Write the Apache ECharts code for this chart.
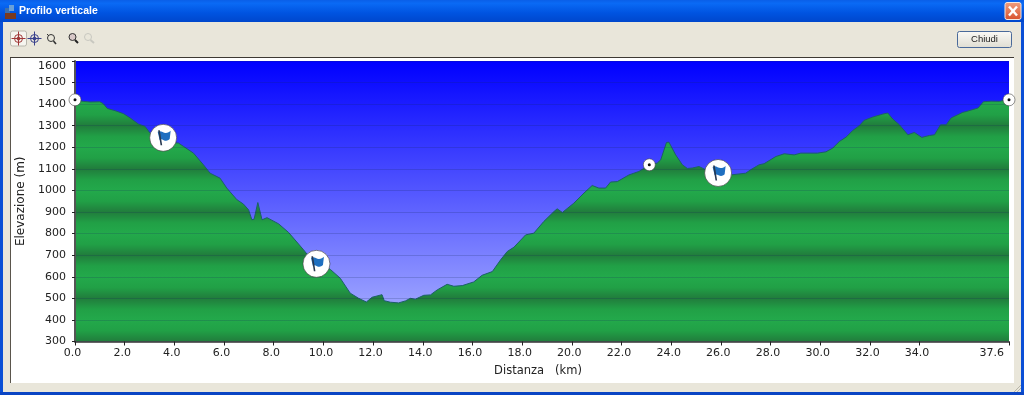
<!DOCTYPE html>
<html><head><meta charset="utf-8">
<style>html,body{margin:0;padding:0;background:#ece9d8}#c{width:1024px;height:395px}</style>
<script src="https://cdn.jsdelivr.net/npm/echarts@6/dist/echarts.min.js"></script>
</head><body><div id="c"></div>
<script>
const distanceKm = [0,.33,.6,1,1.14,1.3,1.61,1.95,2.22,2.55,2.82,3.02,3.29,3.83,4.16,4.37,4.77,5.17,5.44,5.84,6.11,6.52,6.78,6.99,7.12,7.21,7.36,7.53,7.73,8.2,8.6,9.2,9.47,10.28,10.68,11.08,11.42,11.73,11.96,12.36,12.45,12.7,13.03,13.3,13.5,13.7,14.04,14.31,14.58,14.98,15.25,15.59,16.05,16.39,16.8,17.13,17.4,17.67,18.14,18.47,18.87,19.28,19.41,19.62,20.08,20.49,20.82,21.09,21.36,21.56,21.83,22.3,22.7,23.1,23.44,23.58,23.81,23.91,24.18,24.45,24.65,24.85,25.12,25.39,26.4,27,27.2,27.54,27.74,28.21,28.55,28.95,29.22,29.89,30.23,30.5,30.77,31.04,31.31,31.57,31.77,32.11,32.52,32.72,32.92,33.19,33.53,33.79,34.09,34.4,34.6,34.84,35.07,35.27,35.74,35.88,36.35,36.57,36.88,37.22,37.6];
const elevationM = [1420,1413,1410,1411,1402,1380,1370,1356,1336,1308,1297,1266,1235,1221,1220,1204,1173,1119,1080,1057,1011,957,937,910,864,867,944,864,874,845,805,725,686,634,593,524,500,483,505,517,489,482,479,488,500,496,514,516,539,565,556,559,576,607,624,678,717,737,794,802,856,902,915,898,941,988,1023,1011,1011,1039,1041,1072,1088,1116,1127,1142,1222,1224,1165,1119,1102,1104,1111,1096,1072,1080,1096,1119,1124,1157,1170,1165,1173,1173,1179,1196,1227,1247,1278,1300,1325,1340,1354,1359,1331,1304,1258,1269,1246,1255,1258,1304,1304,1336,1362,1366,1382,1411,1414,1413,1424];
const flagKm = [3.55, 9.72, 25.89];
const flagElev = [1244, 660, 1081];
const pointKm = [0, 23.12, 37.6];
const pointElev = [1420, 1119, 1420];
const xTickValues = [0,2,4,6,8,10,12,14,16,18,20,22,24,26,28,30,32,34,37.6];
const bandElev = [1600,1550,1500,1450,1400,1350,1300,1250,1200,1150,1100,1050,1000,950,900,850,800,750,700,650,600,550,500,450,400,350,300];
const bandShade = [2,1,2,1,0,1,2,1,0,1,2,1,0,1,2,1,0,1,2,1,0,1,2,1,0,1,2];
const bandColors = ['#23a94b','#21a046','#217c3c'];

const G = {l:75, t:61, w:934, h:280.5};
const yMin = 300, yMax = 1600;
const FONT = '"DejaVu Sans"';
const bandStops = bandElev.map((v,i)=>({offset:(yMax-v)/(yMax-yMin), color:bandColors[bandShade[i]]}));

const rect=(x,y,w,h,fill,z=-10,extra={})=>({type:'rect',z,silent:true,shape:{x,y,width:w,height:h,...extra},style:{fill}});
const line=(x1,y1,x2,y2,stroke,lw=1,z=-8)=>({type:'line',z,silent:true,shape:{x1,y1,x2,y2},style:{stroke,lineWidth:lw}});
const circ=(cx,cy,r,stroke,fill='none',lw=1,z=-8)=>({type:'circle',z,silent:true,shape:{cx,cy,r},style:{stroke,fill,lineWidth:lw}});
const lg=(a,b,h=false)=>({type:'linear',x:0,y:0,x2:h?1:0,y2:h?0:1,colorStops:[{offset:0,color:a},{offset:1,color:b}]});
const cross=(cx,cy,c)=>[circ(cx,cy,4,c),line(cx-7,cy,cx+7,cy,c),line(cx,cy-7,cx,cy+7,c),circ(cx,cy,1.5,c,c)];
const txt=(x,y,t,fill,font,extra={})=>({type:'text',z:-7,silent:true,x,y,style:{text:t,fill,font,...extra}});

const chrome=[
  rect(0,0,1024,395,'#e9e6da',-12),
  {type:'rect',z:-11,silent:true,shape:{x:0,y:0,width:1024,height:22},style:{fill:{type:'linear',x:0,y:0,x2:0,y2:1,colorStops:[{offset:0,color:'#0a5fe8'},{offset:.15,color:'#0a6af5'},{offset:.6,color:'#0053e0'},{offset:1,color:'#0047cc'}]}}},
  rect(0,22,3,373,'#0a4fd6',-11), rect(1021,22,3,373,'#0a4fd6',-11), rect(0,392,1024,3,'#0a45c4',-11),
  rect(10,58,1004,325,'#ffffff',-10),
  line(10,57.5,1014,57.5,'#3e3a34',1), line(10.5,58,10.5,383,'#5a554c',1),
  rect(1009,61,5,322,'#ffffff',-9),
  rect(5,8,5,9,'#3a6fb0',-7), rect(9,5,5,6,'#6aa0d8',-7), rect(5,13,11,6,'#7a3a20',-7),
  txt(19,6,'Profilo verticale','#ffffff','bold 10.5px "Liberation Sans"'),
  {type:'rect',z:-7,silent:true,shape:{x:1005,y:2.5,width:16,height:17,r:2},style:{fill:lg('#f0a080','#d8502c'),stroke:'#f4e8e0',lineWidth:1}},
  line(1009,6.5,1017,15.5,'#ffffff',2.4,-6), line(1017,6.5,1009,15.5,'#ffffff',2.4,-6),
  {type:'rect',z:-8,silent:true,shape:{x:10.5,y:31,width:16,height:15,r:2},style:{fill:'#f6f5ef',stroke:'#b8b6ac',lineWidth:1}},
  ...cross(18.5,38.5,'#a03838'), ...cross(34.5,38.5,'#38408c'),
  circ(51,38,3.5,'#333'), line(47,34,49,36,'#333'), line(53.5,41,56,44,'#333',1.6),
  circ(72.5,37,3.5,'#333','#d8c8c8'), line(75,40,78,43,'#222',2),
  circ(88,37,3.5,'#c8c8c0'), line(90.5,40,94,43,'#c8c8c0',2),
  {type:'rect',z:-8,silent:true,shape:{x:957.5,y:31.5,width:54,height:16,r:2},style:{fill:lg('#fbfaf6','#dfddd2'),stroke:'#4a6a9a',lineWidth:1}},
  txt(984.5,39.5,'Chiudi','#222222','9.5px "Liberation Sans"',{align:'center',verticalAlign:'middle'}),
  line(1014,392,1021,385,'#b8b5a8'), line(1017,392,1021,388,'#b8b5a8'),
];

const chart=echarts.init(document.getElementById('c'),null,{renderer:'canvas'});
chart.setOption({
  animation:false,
  backgroundColor:'transparent',
  graphic:{elements:chrome},
  grid:{left:G.l,top:G.t,width:G.w,height:G.h,show:true,borderWidth:0,z:0,
    backgroundColor:lg('#0000ff','#b2baff')},
  xAxis:{type:'value',min:0,max:37.6,z:4,
    name:'Distanza   (km)',nameLocation:'middle',nameGap:24,
    nameTextStyle:{color:'#222',fontFamily:FONT,fontSize:11.5,padding:[0,8,0,0]},
    splitLine:{show:false},
    axisLine:{show:true,onZero:false,lineStyle:{color:'#333',width:1.5}},
    axisTick:{show:true,length:4,inside:false,lineStyle:{color:'#222'},customValues:xTickValues},
    axisLabel:{color:'#222',fontFamily:FONT,fontSize:11,margin:6,padding:[0,5,0,0],
      customValues:xTickValues,alignMaxLabel:'right',formatter:v=>v.toFixed(1)}},
  yAxis:{type:'value',min:yMin,max:yMax,interval:100,z:4,
    name:'Elevazione (m)',nameLocation:'middle',nameGap:48,nameRotate:90,
    nameTextStyle:{color:'#222',fontFamily:FONT,fontSize:12,padding:[0,0,0,0]},
    splitLine:{show:true,lineStyle:{color:'rgba(20,40,90,0.2)',width:1}},
    axisLine:{show:true,onZero:false,lineStyle:{color:'#555',width:2}},
    axisTick:{show:true,length:3,lineStyle:{color:'#222'}},
    axisLabel:{color:'#222',fontFamily:FONT,fontSize:11,margin:9,verticalAlignMaxLabel:'top',formatter:v=>String(v)}},
  series:[
    {type:'line',z:2,data:distanceKm.map((d,i)=>[d,elevationM[i]]),showSymbol:false,symbol:'none',smooth:false,
      lineStyle:{color:'#1c5f68',width:1},
      areaStyle:{opacity:1,origin:'start',color:{type:'linear',global:true,x:0,y:G.t,x2:0,y2:G.t+G.h,colorStops:bandStops}}},
    {type:'scatter',z:10,clip:false,silent:true,data:flagKm.map((d,i)=>[d,flagElev[i]]),symbol:'circle',symbolSize:27,
      itemStyle:{color:'#fff',borderColor:'#333',borderWidth:.6,opacity:1}},
    {type:'scatter',z:11,clip:false,silent:true,data:flagKm.map((d,i)=>[d,flagElev[i]]),
      symbol:'path://M0 2C3 0 5 3 8 3C10 3 12 2 13 1L12 9C10 11 8 11 6 10C4 9 3 9 2 10Z',symbolSize:[13,10],symbolOffset:[1,-2],
      itemStyle:{color:'#1f6fc0',opacity:1}},
    {type:'scatter',z:12,clip:false,silent:true,data:flagKm.map((d,i)=>[d,flagElev[i]]),
      symbol:'path://M0 0L2 0L5 16L3 16Z',symbolSize:[4,15],symbolOffset:[-3,0],
      itemStyle:{color:'#27374f',opacity:1}},
    {type:'scatter',z:10,clip:false,silent:true,data:pointKm.map((d,i)=>[d,pointElev[i]]),symbol:'circle',symbolSize:12,
      itemStyle:{color:'#fff',borderColor:'#444',borderWidth:.6,opacity:1}},
    {type:'scatter',z:11,clip:false,silent:true,data:pointKm.map((d,i)=>[d,pointElev[i]]),symbol:'circle',symbolSize:3,
      itemStyle:{color:'#111',opacity:1}}
  ]
});
</script></body></html>
